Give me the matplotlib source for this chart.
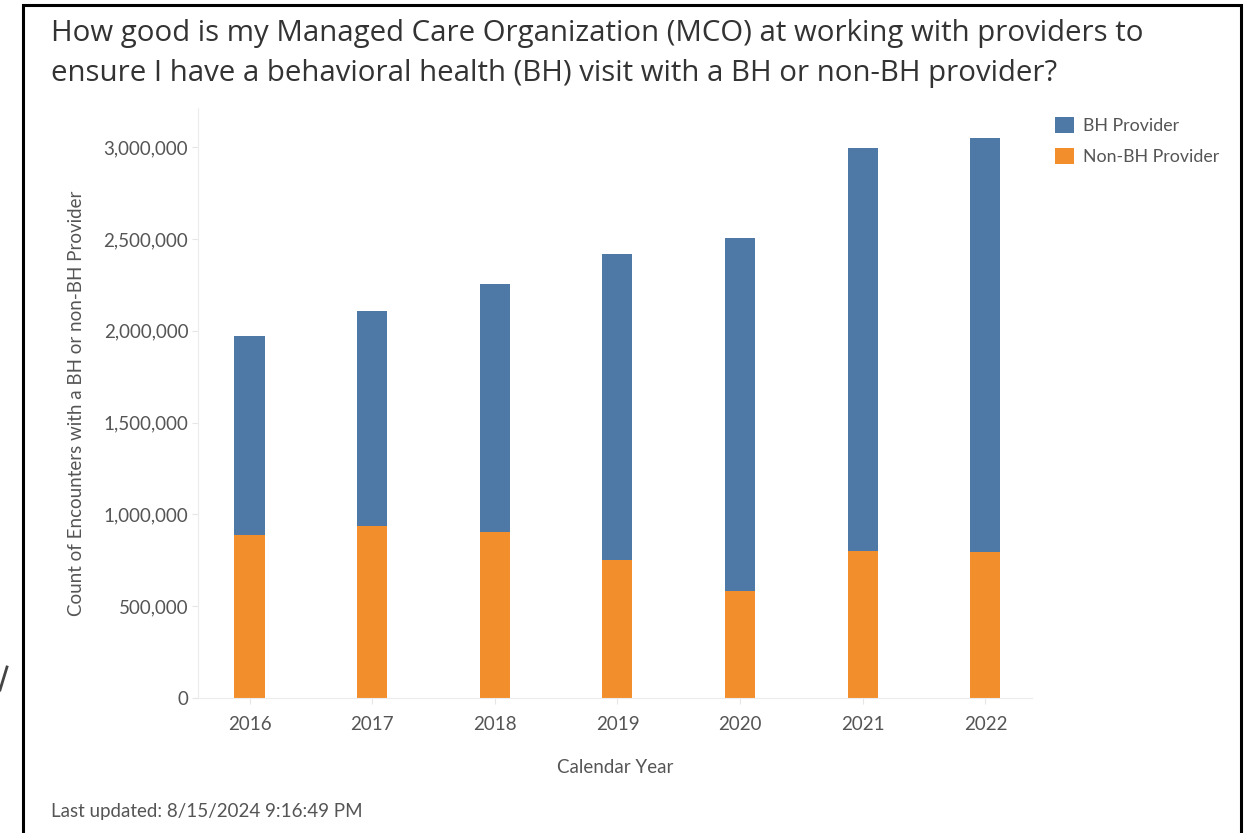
import matplotlib.pyplot as plt
from matplotlib.patches import Rectangle
from matplotlib.ticker import FuncFormatter

years = ["2016", "2017", "2018", "2019", "2020", "2021", "2022"]
non_bh = [889000, 937000, 904000, 752000, 584000, 802000, 794000]
bh = [1084000, 1171000, 1349000, 1666000, 1920000, 2194000, 2258000]

blue = "#4e79a7"
orange = "#f28e2b"
txt = "#555555"
fs = 13.5

W, H = 1245, 833
fig = plt.figure(figsize=(W / 100, H / 100), dpi=100)
plt.rcParams["font.family"] = ["Lato", "DejaVu Sans"]

# axes placed in pixel coords of the reference
l, r, t, b = 198, 1032, 108, 698
ax = fig.add_axes([l / W, 1 - b / H, (r - l) / W, (b - t) / H])

x = list(range(len(years)))
ax.bar(x, non_bh, width=0.245, color=orange, label="Non-BH Provider", zorder=2)
ax.bar(x, bh, width=0.245, bottom=non_bh, color=blue, label="BH Provider", zorder=2)

ax.set_xlim(-0.42, 6.38)
ax.set_ylim(0, 3213000)
ax.set_xticks(x)
ax.set_xticklabels(years)
ax.set_yticks(range(0, 3000001, 500000))
ax.yaxis.set_major_formatter(FuncFormatter(lambda v, p: f"{int(v):,}"))
ax.tick_params(axis="both", colors="#e6e6e6", labelcolor=txt, labelsize=fs, length=4)
ax.tick_params(axis="y", pad=3)
ax.tick_params(axis="x", pad=9)

for s in ["top", "right"]:
    ax.spines[s].set_visible(False)
ax.spines["left"].set_color("#ececec")
ax.spines["bottom"].set_color("#ececec")

ax.set_xlabel("Calendar Year", color=txt, fontsize=fs, labelpad=19)
ax.set_ylabel("Count of Encounters with a BH or non-BH Provider", color=txt, fontsize=fs, labelpad=13)

fig.text(51 / W, 1 - 33 / H, "How good is my Managed Care Organization (MCO) at working with providers to",
         fontsize=21.2, family=["Open Sans", "DejaVu Sans"], color="#333333", va="center")
fig.text(51 / W, 1 - 73 / H, "ensure I have a behavioral health (BH) visit with a BH or non-BH provider?",
         fontsize=21.2, family=["Open Sans", "DejaVu Sans"], color="#333333", va="center")

handles, labels = ax.get_legend_handles_labels()
leg = fig.legend(handles[::-1], labels[::-1], loc="upper left", bbox_to_anchor=(1039 / W, 1 - 101 / H),
                 frameon=False, fontsize=12.8, handlelength=1.05, handleheight=1.05,
                 labelspacing=0.75, handletextpad=0.55)
for tx in leg.get_texts():
    tx.set_color(txt)

fig.text(51 / W, 1 - 811 / H, "Last updated: 8/15/2024 9:16:49 PM", fontsize=fs, color=txt, va="center")

# dashboard frame
fig.patches.append(Rectangle((23 / W, -0.05), (1241 - 23) / W, 1.05 - 5 / H, transform=fig.transFigure,
                             fill=False, edgecolor="black", linewidth=2.2))
fig.lines.append(plt.Line2D([0 / W, 7 / W], [1 - 690 / H, 1 - 667 / H], transform=fig.transFigure,
                            color="#444444", linewidth=2))

fig.savefig("out.png", dpi=100)
